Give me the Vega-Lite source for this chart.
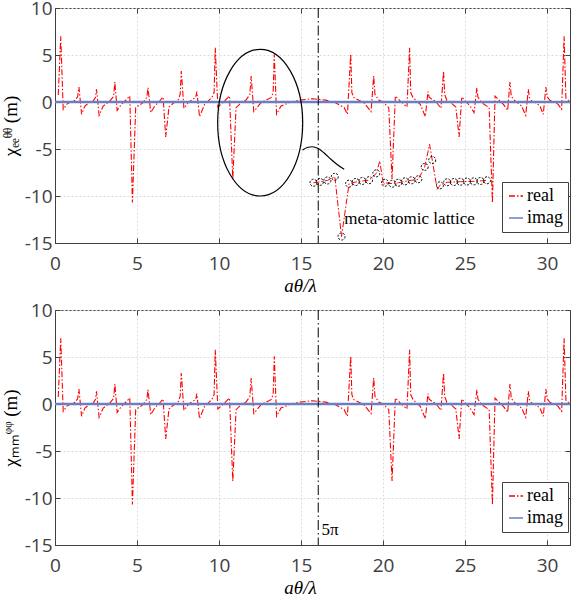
{
  "$schema": "https://vega.github.io/schema/vega-lite/v6.json",
  "padding": {"left": 0, "top": -2, "right": 0, "bottom": 0},
  "datasets": {
    "real": [
      {"x":0.20,"y":0.74,"s":"real"},{"x":0.35,"y":7.0,"s":"real"},{"x":0.50,"y":-0.78,"s":"real"},{"x":0.71,"y":-0.25,"s":"real"},{"x":1.00,"y":0.05,"s":"real"},{"x":1.22,"y":0.18,"s":"real"},{"x":1.38,"y":0.55,"s":"real"},{"x":1.46,"y":1.6,"s":"real"},{"x":1.62,"y":-1.31,"s":"real"},{"x":1.82,"y":-0.43,"s":"real"},{"x":2.10,"y":-0.05,"s":"real"},{"x":2.33,"y":0.10,"s":"real"},{"x":2.47,"y":0.5,"s":"real"},{"x":2.53,"y":1.35,"s":"real"},{"x":2.69,"y":-1.42,"s":"real"},{"x":2.94,"y":-0.43,"s":"real"},{"x":3.34,"y":0.10,"s":"real"},{"x":3.57,"y":0.6,"s":"real"},{"x":3.65,"y":2.13,"s":"real"},{"x":3.79,"y":-0.89,"s":"real"},{"x":4.05,"y":-0.25,"s":"real"},{"x":4.35,"y":0.25,"s":"real"},{"x":4.56,"y":0.64,"s":"real"},{"x":4.72,"y":-10.7,"s":"real"},{"x":4.92,"y":-0.6,"s":"real"},{"x":5.37,"y":-0.07,"s":"real"},{"x":5.60,"y":0.5,"s":"real"},{"x":5.67,"y":1.52,"s":"real"},{"x":5.84,"y":-1.13,"s":"real"},{"x":6.08,"y":-0.43,"s":"real"},{"x":6.40,"y":0.15,"s":"real"},{"x":6.59,"y":0.53,"s":"real"},{"x":6.75,"y":-3.72,"s":"real"},{"x":6.95,"y":-0.53,"s":"real"},{"x":7.30,"y":0.0,"s":"real"},{"x":7.50,"y":0.18,"s":"real"},{"x":7.63,"y":0.8,"s":"real"},{"x":7.70,"y":3.3,"s":"real"},{"x":7.86,"y":-0.67,"s":"real"},{"x":8.15,"y":0.0,"s":"real"},{"x":8.41,"y":0.29,"s":"real"},{"x":8.58,"y":0.5,"s":"real"},{"x":8.65,"y":1.1,"s":"real"},{"x":8.81,"y":-1.56,"s":"real"},{"x":9.12,"y":-0.25,"s":"real"},{"x":9.56,"y":0.46,"s":"real"},{"x":9.70,"y":1.0,"s":"real"},{"x":9.77,"y":5.78,"s":"real"},{"x":9.93,"y":-0.53,"s":"real"},{"x":10.33,"y":0.1,"s":"real"},{"x":10.64,"y":0.64,"s":"real"},{"x":10.84,"y":-8.2,"s":"real"},{"x":11.04,"y":-0.6,"s":"real"},{"x":11.40,"y":0.0,"s":"real"},{"x":11.65,"y":0.21,"s":"real"},{"x":11.88,"y":0.8,"s":"real"},{"x":11.96,"y":2.77,"s":"real"},{"x":12.12,"y":-1.03,"s":"real"},{"x":12.56,"y":-0.07,"s":"real"},{"x":13.17,"y":0.46,"s":"real"},{"x":13.30,"y":1.0,"s":"real"},{"x":13.37,"y":5.07,"s":"real"},{"x":13.51,"y":-1.31,"s":"real"},{"x":13.78,"y":-0.43,"s":"real"},{"x":14.30,"y":-0.05,"s":"real"},{"x":14.90,"y":0.2,"s":"real"},{"x":15.70,"y":0.35,"s":"real"},{"x":16.50,"y":0.2,"s":"real"},{"x":17.10,"y":-0.07,"s":"real"},{"x":17.63,"y":-0.6,"s":"real"},{"x":17.83,"y":-1.31,"s":"real"},{"x":18.03,"y":5.1,"s":"real"},{"x":18.10,"y":1.0,"s":"real"},{"x":18.22,"y":0.46,"s":"real"},{"x":18.83,"y":-0.07,"s":"real"},{"x":19.27,"y":-1.03,"s":"real"},{"x":19.43,"y":2.77,"s":"real"},{"x":19.51,"y":0.8,"s":"real"},{"x":19.74,"y":0.21,"s":"real"},{"x":19.99,"y":0.0,"s":"real"},{"x":20.35,"y":-0.6,"s":"real"},{"x":20.55,"y":-8.2,"s":"real"},{"x":20.75,"y":0.64,"s":"real"},{"x":21.06,"y":0.1,"s":"real"},{"x":21.46,"y":-0.53,"s":"real"},{"x":21.62,"y":5.78,"s":"real"},{"x":21.69,"y":1.0,"s":"real"},{"x":21.83,"y":0.46,"s":"real"},{"x":22.27,"y":-0.25,"s":"real"},{"x":22.58,"y":-1.56,"s":"real"},{"x":22.74,"y":1.1,"s":"real"},{"x":22.81,"y":0.5,"s":"real"},{"x":22.98,"y":0.29,"s":"real"},{"x":23.24,"y":0.0,"s":"real"},{"x":23.53,"y":-0.67,"s":"real"},{"x":23.69,"y":3.3,"s":"real"},{"x":23.76,"y":0.8,"s":"real"},{"x":23.89,"y":0.18,"s":"real"},{"x":24.09,"y":0.0,"s":"real"},{"x":24.44,"y":-0.53,"s":"real"},{"x":24.64,"y":-3.72,"s":"real"},{"x":24.80,"y":0.53,"s":"real"},{"x":24.99,"y":0.15,"s":"real"},{"x":25.31,"y":-0.43,"s":"real"},{"x":25.55,"y":-1.13,"s":"real"},{"x":25.72,"y":1.52,"s":"real"},{"x":25.79,"y":0.5,"s":"real"},{"x":26.02,"y":-0.07,"s":"real"},{"x":26.47,"y":-0.6,"s":"real"},{"x":26.67,"y":-10.7,"s":"real"},{"x":26.83,"y":0.64,"s":"real"},{"x":27.04,"y":0.25,"s":"real"},{"x":27.34,"y":-0.25,"s":"real"},{"x":27.60,"y":-0.89,"s":"real"},{"x":27.74,"y":2.13,"s":"real"},{"x":27.82,"y":0.6,"s":"real"},{"x":28.05,"y":0.10,"s":"real"},{"x":28.45,"y":-0.43,"s":"real"},{"x":28.70,"y":-1.42,"s":"real"},{"x":28.86,"y":1.35,"s":"real"},{"x":28.92,"y":0.5,"s":"real"},{"x":29.06,"y":0.10,"s":"real"},{"x":29.29,"y":-0.05,"s":"real"},{"x":29.57,"y":-0.43,"s":"real"},{"x":29.77,"y":-1.31,"s":"real"},{"x":29.93,"y":1.6,"s":"real"},{"x":30.01,"y":0.55,"s":"real"},{"x":30.17,"y":0.18,"s":"real"},{"x":30.39,"y":0.05,"s":"real"},{"x":30.68,"y":-0.25,"s":"real"},{"x":30.89,"y":-0.78,"s":"real"},{"x":31.04,"y":7.0,"s":"real"},{"x":31.15,"y":0.4,"s":"real"},{"x":31.35,"y":0.1,"s":"real"}
    ],
    "imag": [{"x":0,"y":0,"s":"imag"},{"x":31.4,"y":0,"s":"imag"}],
    "vline": [{"x":16.05}],
    "ellipse": [{"x":12.51,"y":-2.2}],
    "connector": [
      {"x":15.09,"y":-5.11},{"x":15.38,"y":-4.84},{"x":15.70,"y":-4.76},{"x":16.05,"y":-4.95},{"x":16.41,"y":-5.43},{"x":16.84,"y":-6.12},{"x":17.20,"y":-6.65},{"x":17.63,"y":-7.16}
    ],
    "insetLine": [
      {"x":15.76,"y":-8.59},{"x":16.15,"y":-8.50},{"x":16.61,"y":-8.35},{"x":17.06,"y":-7.95},{"x":17.47,"y":-14.31},{"x":17.93,"y":-8.69},{"x":18.34,"y":-8.51},{"x":18.74,"y":-8.40},{"x":19.15,"y":-8.32},{"x":19.59,"y":-7.59},{"x":19.80,"y":-6.28},{"x":20.03,"y":-8.83},{"x":20.12,"y":-8.59},{"x":20.57,"y":-8.69},{"x":20.93,"y":-8.59},{"x":21.34,"y":-8.44},{"x":21.74,"y":-8.33},{"x":22.15,"y":-8.22},{"x":22.54,"y":-6.91},{"x":22.84,"y":-4.50},{"x":23.30,"y":-9.29},{"x":23.47,"y":-8.86},{"x":23.91,"y":-8.54},{"x":24.32,"y":-8.51},{"x":24.72,"y":-8.48},{"x":25.12,"y":-8.46},{"x":25.53,"y":-8.44},{"x":25.94,"y":-8.40},{"x":26.34,"y":-8.33}
    ],
    "insetPts": [
      {"x":15.76,"y":-8.59},{"x":16.15,"y":-8.50},{"x":16.61,"y":-8.35},{"x":17.06,"y":-7.95},{"x":17.47,"y":-14.31},{"x":17.93,"y":-8.69},{"x":18.34,"y":-8.51},{"x":18.74,"y":-8.40},{"x":19.15,"y":-8.32},{"x":19.59,"y":-7.59},{"x":20.12,"y":-8.59},{"x":20.57,"y":-8.69},{"x":20.93,"y":-8.59},{"x":21.34,"y":-8.44},{"x":21.74,"y":-8.33},{"x":22.15,"y":-8.22},{"x":22.54,"y":-6.91},{"x":23.00,"y":-6.17},{"x":23.47,"y":-8.86},{"x":23.91,"y":-8.54},{"x":24.32,"y":-8.51},{"x":24.72,"y":-8.48},{"x":25.12,"y":-8.46},{"x":25.53,"y":-8.44},{"x":25.94,"y":-8.40},{"x":26.34,"y":-8.33}
    ],
    "note1": [{"x":17.63,"y":-12.48,"t":"meta-atomic lattice"}],
    "note2": [{"x":16.25,"y":-13.4,"t":"5π"}]
  },
  "spacing": 4,
  "resolve": {"scale": {"color": "independent", "strokeDash": "independent"}},
  "vconcat": [
    {
      "width": 515,
      "height": 235,
      "resolve": {"axis": {"x": "independent", "y": "independent"}},
      "layer": [
        {
          "data": {"name": "real"},
          "mark": {"type": "line", "strokeWidth": 1.1},
          "encoding": {
            "x": {"field": "x", "type": "quantitative", "scale": {"domain": [0, 31.4], "nice": false, "zero": false},
                  "axis": {"values": [0,5,10,15,20,25,30], "grid": true, "title": "aθ/λ", "titleFontStyle": "italic", "titlePadding": 3, "titleX": 245, "labelPadding": 16, "labelExpr": "'' + datum.value"}},
            "y": {"field": "y", "type": "quantitative", "scale": {"domain": [-15, 10], "nice": false, "zero": false},
                  "axis": {"values": [-15,-10,-5,0,5,10], "grid": true, "title": "χₑₑᶿᶿ (m)", "labelExpr": "'' + datum.value"}},
            "color": {"field": "s", "type": "nominal", "scale": {"domain": ["real","imag"], "range": ["#ff0000","#6a7fc0"]},
                      "legend": {"title": null, "orient": "none", "legendX": 447, "legendY": 174, "direction": "vertical", "fillColor": "white", "strokeColor": "#404040", "padding": 5, "symbolType": "stroke", "symbolSize": 196, "symbolStrokeWidth": 1.5, "labelFont": "Liberation Serif", "labelFontSize": 18, "labelColor": "black", "labelOffset": 2, "rowPadding": 4}},
            "strokeDash": {"field": "s", "type": "nominal", "scale": {"domain": ["real","imag"], "range": [[6,2,1.5,2],[1,0]]},
                      "legend": {"title": null, "orient": "none", "legendX": 447, "legendY": 174, "direction": "vertical", "fillColor": "white", "strokeColor": "#404040", "padding": 5, "symbolType": "stroke", "symbolSize": 196, "symbolStrokeWidth": 1.5, "labelFont": "Liberation Serif", "labelFontSize": 18, "labelColor": "black", "labelOffset": 2, "rowPadding": 4}}
          }
        },
        {
          "data": {"name": "imag"},
          "mark": {"type": "line", "strokeWidth": 2.5},
          "encoding": {
            "x": {"field": "x", "type": "quantitative", "scale": {"domain": [0, 31.4], "nice": false, "zero": false},
                  "axis": {"orient": "top", "values": [0,5,10,15,20,25,30], "labels": false, "title": null, "grid": false, "domain": false}},
            "y": {"field": "y", "type": "quantitative", "scale": {"domain": [-15, 10], "nice": false, "zero": false},
                  "axis": {"orient": "right", "values": [-15,-10,-5,0,5,10], "labels": false, "title": null, "grid": false, "domain": false}},
            "color": {"field": "s", "type": "nominal", "scale": {"domain": ["real","imag"], "range": ["#ff0000","#6a7fc0"]}},
            "strokeDash": {"field": "s", "type": "nominal", "scale": {"domain": ["real","imag"], "range": [[6,2,1.5,2],[1,0]]}}
          }
        },
        {
          "data": {"name": "vline"},
          "mark": {"type": "rule", "color": "black", "strokeWidth": 1, "strokeDash": [10,3,1.5,3]},
          "encoding": {"x": {"field": "x", "type": "quantitative", "scale": {"domain": [0, 31.4], "nice": false, "zero": false}, "axis": null}}
        },
        {
          "data": {"name": "ellipse"},
          "mark": {"type": "point", "shape": "M0,-1A0.58,1 0 1,1 0,1A0.58,1 0 1,1 0,-1Z", "filled": false, "color": "black", "strokeWidth": 1.2, "size": 21500, "opacity": 1},
          "encoding": {
            "x": {"field": "x", "type": "quantitative", "scale": {"domain": [0, 31.4], "nice": false, "zero": false}, "axis": null},
            "y": {"field": "y", "type": "quantitative", "scale": {"domain": [-15, 10], "nice": false, "zero": false}, "axis": null}
          }
        },
        {
          "data": {"name": "connector"},
          "mark": {"type": "line", "color": "black", "strokeWidth": 1.2, "interpolate": "monotone"},
          "encoding": {
            "x": {"field": "x", "type": "quantitative", "scale": {"domain": [0, 31.4], "nice": false, "zero": false}, "axis": null},
            "y": {"field": "y", "type": "quantitative", "scale": {"domain": [-15, 10], "nice": false, "zero": false}, "axis": null}
          }
        },
        {
          "data": {"name": "insetLine"},
          "mark": {"type": "line", "color": "#ff0000", "strokeWidth": 1, "strokeDash": [6,2,1.5,2]},
          "encoding": {
            "x": {"field": "x", "type": "quantitative", "scale": {"domain": [0, 31.4], "nice": false, "zero": false}, "axis": null},
            "y": {"field": "y", "type": "quantitative", "scale": {"domain": [-15, 10], "nice": false, "zero": false}, "axis": null}
          }
        },
        {
          "data": {"name": "insetPts"},
          "mark": {"type": "point", "shape": "circle", "filled": false, "color": "black", "strokeWidth": 1, "strokeDash": [2,1.5], "size": 49, "opacity": 1},
          "encoding": {
            "x": {"field": "x", "type": "quantitative", "scale": {"domain": [0, 31.4], "nice": false, "zero": false}, "axis": null},
            "y": {"field": "y", "type": "quantitative", "scale": {"domain": [-15, 10], "nice": false, "zero": false}, "axis": null}
          }
        },
        {
          "data": {"name": "note1"},
          "mark": {"type": "text", "align": "left", "baseline": "middle", "font": "Liberation Serif", "fontSize": 17, "color": "black"},
          "encoding": {
            "x": {"field": "x", "type": "quantitative", "scale": {"domain": [0, 31.4], "nice": false, "zero": false}, "axis": null},
            "y": {"field": "y", "type": "quantitative", "scale": {"domain": [-15, 10], "nice": false, "zero": false}, "axis": null},
            "text": {"field": "t"}
          }
        }
      ]
    },
    {
      "width": 515,
      "height": 235,
      "resolve": {"axis": {"x": "independent", "y": "independent"}},
      "layer": [
        {
          "data": {"name": "real"},
          "mark": {"type": "line", "strokeWidth": 1.1},
          "encoding": {
            "x": {"field": "x", "type": "quantitative", "scale": {"domain": [0, 31.4], "nice": false, "zero": false},
                  "axis": {"values": [0,5,10,15,20,25,30], "grid": true, "title": "aθ/λ", "titleFontStyle": "italic", "titlePadding": 3, "titleX": 245, "labelPadding": 16, "labelExpr": "'' + datum.value"}},
            "y": {"field": "y", "type": "quantitative", "scale": {"domain": [-15, 10], "nice": false, "zero": false},
                  "axis": {"values": [-15,-10,-5,0,5,10], "grid": true, "title": "χₘₘᵠᵠ (m)", "labelExpr": "'' + datum.value"}},
            "color": {"field": "s", "type": "nominal", "scale": {"domain": ["real","imag"], "range": ["#ff0000","#6a7fc0"]},
                      "legend": {"title": null, "orient": "none", "legendX": 447, "legendY": 172, "direction": "vertical", "fillColor": "white", "strokeColor": "#404040", "padding": 5, "symbolType": "stroke", "symbolSize": 196, "symbolStrokeWidth": 1.5, "labelFont": "Liberation Serif", "labelFontSize": 18, "labelColor": "black", "labelOffset": 2, "rowPadding": 4}},
            "strokeDash": {"field": "s", "type": "nominal", "scale": {"domain": ["real","imag"], "range": [[6,2,1.5,2],[1,0]]},
                      "legend": {"title": null, "orient": "none", "legendX": 447, "legendY": 172, "direction": "vertical", "fillColor": "white", "strokeColor": "#404040", "padding": 5, "symbolType": "stroke", "symbolSize": 196, "symbolStrokeWidth": 1.5, "labelFont": "Liberation Serif", "labelFontSize": 18, "labelColor": "black", "labelOffset": 2, "rowPadding": 4}}
          }
        },
        {
          "data": {"name": "imag"},
          "mark": {"type": "line", "strokeWidth": 2.5},
          "encoding": {
            "x": {"field": "x", "type": "quantitative", "scale": {"domain": [0, 31.4], "nice": false, "zero": false},
                  "axis": {"orient": "top", "values": [0,5,10,15,20,25,30], "labels": false, "title": null, "grid": false, "domain": false}},
            "y": {"field": "y", "type": "quantitative", "scale": {"domain": [-15, 10], "nice": false, "zero": false},
                  "axis": {"orient": "right", "values": [-15,-10,-5,0,5,10], "labels": false, "title": null, "grid": false, "domain": false}},
            "color": {"field": "s", "type": "nominal", "scale": {"domain": ["real","imag"], "range": ["#ff0000","#6a7fc0"]}},
            "strokeDash": {"field": "s", "type": "nominal", "scale": {"domain": ["real","imag"], "range": [[6,2,1.5,2],[1,0]]}}
          }
        },
        {
          "data": {"name": "vline"},
          "mark": {"type": "rule", "color": "black", "strokeWidth": 1, "strokeDash": [10,3,1.5,3]},
          "encoding": {"x": {"field": "x", "type": "quantitative", "scale": {"domain": [0, 31.4], "nice": false, "zero": false}, "axis": null}}
        },
        {
          "data": {"name": "note2"},
          "mark": {"type": "text", "align": "left", "baseline": "middle", "font": "Liberation Serif", "fontSize": 17, "color": "black"},
          "encoding": {
            "x": {"field": "x", "type": "quantitative", "scale": {"domain": [0, 31.4], "nice": false, "zero": false}, "axis": null},
            "y": {"field": "y", "type": "quantitative", "scale": {"domain": [-15, 10], "nice": false, "zero": false}, "axis": null},
            "text": {"field": "t"}
          }
        }
      ]
    }
  ],
  "config": {
    "view": {"stroke": "#404040", "strokeWidth": 1},
    "axis": {
      "labelFont": "Open Sans", "labelFontSize": 19, "labelColor": "#404040",
      "domainColor": "#404040", "tickColor": "#404040", "tickSize": -5, "labelPadding": 8,
      "labelFlush": false, "labelOverlap": false,
      "gridColor": "#dcdcdc", "gridDash": [2,2],
      "titleFont": "Liberation Serif", "titleFontSize": 19, "titleFontWeight": "normal", "titleColor": "#000000"
    }
  }
}
